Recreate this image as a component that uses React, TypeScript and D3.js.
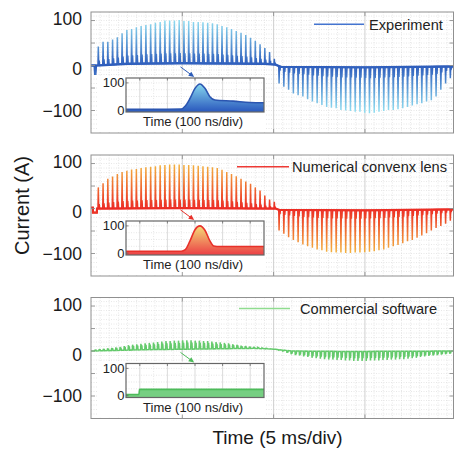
import React from 'react';
import * as d3 from 'd3';

const FONT = "'Liberation Sans', Arial, Helvetica, sans-serif";

// ---------------- data ----------------
const TIME_DOMAIN_MS = [0, 19.85];
const CURRENT_DOMAIN = [-150, 119];
const Y_TICKS = [100, 50, 0, -50, -100];
const Y_LABELED = [100, 0, -100];
const X_MAJOR = [5, 10, 15];
const LEGENDS = ['Experiment', 'Numerical convenx lens', 'Commercial software'];
const X_LABEL = 'Time (5 ms/div)';
const Y_LABEL = 'Current (A)';
const INSET_X_LABEL = 'Time (100 ns/div)';
const INSET_Y_TICKS = [100, 0];
const INSET_NS_DOMAIN = [0, 500];
const INSET_MAJOR_NS = [50, 150, 250, 350, 450];

// pulse peak currents (A), one per switching pulse
const EXP_PULSE_PEAKS = [
  42, 53, 53, 58, 63, 72, 79, 81, 85, 88, 90, 92, 95, 97, 100, 100, 100, 101, 99, 99,
  97, 97, 96, 95, 94, 92, 88, 85, 81, 77, 73, 68, 62, 55, 47, 39, 30, 15,
  -40, -47, -54, -62, -66, -69, -75, -80, -84, -88, -92, -94, -95, -99, -100, -101, -103, -103,
  -105, -106, -105, -103, -101, -99, -99, -97, -95, -92, -89, -86, -84, -80, -77, -69, -54, -40, -28,
];
const NUM_PULSE_PEAKS = [
  47, 56, 66, 71, 77, 81, 84, 87, 88, 90, 92, 93, 94, 96, 97, 98, 98, 98, 97, 97,
  96, 95, 94, 93, 92, 90, 86, 81, 77, 72, 66, 60, 55, 47, 40, 29, 20, 15,
  -49, -56, -64, -70, -75, -80, -84, -87, -91, -93, -96, -97, -98, -98, -99, -99, -98, -98,
  -97, -96, -95, -93, -91, -87, -84, -81, -77, -73, -70, -65, -60, -55, -49, -43, -39, -34, -27,
];
const COM_PULSE_PEAKS = [
  3, 4, 5, 6, 7, 8, 9, 11, 13, 14, 15, 16, 17, 18, 19, 20, 21, 22, 22, 23,
  23, 24, 24, 24, 23, 23, 22, 22, 21, 20, 19, 18, 17, 15, 14, 12, 11, 10, 9, 8,
  7, 6, 5, 4, 2, 0,
  -4, -7, -9, -10, -12, -13, -15, -16, -17, -18, -19, -19, -20, -20, -21, -21, -22, -22, -22, -22,
  -21, -21, -21, -20, -20, -19, -19, -18, -18, -17, -16, -15, -13, -12, -11, -10, -9, -8, -7, -6, -6,
];
const EXP_PULSE_START_MS = 0.4;
const NUM_PULSE_START_MS = 0.4;
const COM_PULSE_START_MS = 0.22;
const EXP_PULSE_PERIOD_MS = 0.2605;
const NUM_PULSE_PERIOD_MS = 0.2605;
const COM_PULSE_PERIOD_MS = 0.2285;

// baseline (between pulses) control points
const EXP_BASE_T = [0, 0.2, 0.23, 0.27, 2, 5, 9.5, 10.1, 10.4, 15, 19.85];
const EXP_BASE_V = [0, 0, -21, 0, 4, 5, 4, 2, -3, -4, -2];
const NUM_BASE_T = [0, 0.1, 0.11, 0.32, 0.33, 5, 10.1, 10.3, 15, 19.85];
const NUM_BASE_V = [2, 2, -9, -9, 0, 1, 0, -3, -4, -2];
const COM_BASE_T = [0, 3, 7, 9.0, 10, 11, 14, 19.85];
const COM_BASE_V = [0, 3, 5, 6, 4, 0, -1, 0];

// zoomed single pulse (insets)
const EXP_INSET_NS = [0, 100, 200, 215, 232, 250, 268, 286, 304, 322, 388, 449, 500];
const EXP_INSET_V = [3, 3, 4, 15, 43, 80, 96, 80, 49, 37, 33, 28, 27];
const NUM_INSET_NS = [0, 200, 215, 232, 250, 268, 286, 304, 318, 340, 500];
const NUM_INSET_V = [7, 7, 13, 45, 86, 100, 84, 45, 26, 24, 24];
const COM_INSET_NS = [0, 47, 49, 500];
const COM_INSET_V = [4, 4, 23, 23];

// ---------------- layout / style ----------------
const W = 454, H = 452;
const L = 91, R = 453.5, PH = 121;
const PANEL_TOPS = [12, 155, 297.5];
const INSET_L = 126, INSET_R = 264;
const LEGEND_POS = [
  { x1: 314, x2: 364, ly: 12.3, tx: 369, ty: 18.4 },
  { x1: 237, x2: 289, ly: 11.7, tx: 292, ty: 17 },
  { x1: 239, x2: 290, ly: 11, tx: 300, ty: 16.7 },
];
const LABEL_NUDGE: Record<number, number> = { 100: -1.5, 0: 3.5, [-100]: 0 };

const PANELS = [
  {
    peaks: EXP_PULSE_PEAKS, t0: EXP_PULSE_START_MS, period: EXP_PULSE_PERIOD_MS,
    baseT: EXP_BASE_T, baseV: EXP_BASE_V, tail: 0.22,
    insetNs: EXP_INSET_NS, insetV: EXP_INSET_V,
    dark: '#2c5bbb', light: '#8fdcf1', legend: '#4474cf', baseW: 2.4,
    fillTop: '#8adcf0', fillBot: '#2f5fc0', insetLine: '#2b55b0', arrow: '#2d5cb8',
  },
  {
    peaks: NUM_PULSE_PEAKS, t0: NUM_PULSE_START_MS, period: NUM_PULSE_PERIOD_MS,
    baseT: NUM_BASE_T, baseV: NUM_BASE_V, tail: 0.18,
    insetNs: NUM_INSET_NS, insetV: NUM_INSET_V,
    dark: '#ec2b24', light: '#f4b540', legend: '#ee3a35', baseW: 2.2,
    fillTop: '#f4dc78', fillBot: '#ec4848', insetLine: '#e8302a', arrow: '#e8302a',
  },
  {
    peaks: COM_PULSE_PEAKS, t0: COM_PULSE_START_MS, period: COM_PULSE_PERIOD_MS,
    baseT: COM_BASE_T, baseV: COM_BASE_V, tail: 0.65,
    insetNs: COM_INSET_NS, insetV: COM_INSET_V,
    dark: '#62c96a', light: '#7fd582', legend: '#8fdc8f', baseW: 0,
    fillTop: '#76cf82', fillBot: '#76cf82', insetLine: '#4dbb5a', arrow: '#4dbb5a',
  },
];

function buildTrace(peaks: number[], t0: number, period: number, baseT: number[], baseV: number[], tail: number, w: number) {
  const base = d3.scaleLinear().domain(baseT).range(baseV).clamp(true);
  const pts: [number, number][] = [];
  let bi = 0;
  peaks.forEach((a, i) => {
    const t = t0 + i * period;
    while (bi < baseT.length && baseT[bi] < t - w) { pts.push([baseT[bi], baseV[bi]]); bi++; }
    const b = base(t);
    const tl = b + tail * (a - b);
    pts.push([t - w, b], [t, a], [t + w, tl], [t + 3 * w, tl], [t + 4 * w, b]);
    while (bi < baseT.length && baseT[bi] <= t + 4 * w) bi++;
  });
  while (bi < baseT.length) { pts.push([baseT[bi], baseV[bi]]); bi++; }
  return pts;
}

function Panel({ idx }: { idx: number }) {
  const top = PANEL_TOPS[idx];
  const cfg = PANELS[idx];
  const x = d3.scaleLinear().domain(TIME_DOMAIN_MS).range([L, R]);
  const y = d3.scaleLinear().domain(CURRENT_DOMAIN).range([top + PH, top]);
  const line = d3.line<[number, number]>().x(d => x(d[0])).y(d => y(d[1]));
  const trace = buildTrace(cfg.peaks, cfg.t0, cfg.period, cfg.baseT, cfg.baseV, cfg.tail, 0.018);
  const basePts: [number, number][] = cfg.baseT.map((t, i) => [t, cfg.baseV[i]]);

  const minorX = d3.range(0.5, 19.85, 0.5).filter(v => Math.abs(v % 5) > 1e-6);
  const minorY = d3.range(-140, 119, 10);

  // inset
  const iTop = top + 66, iBot = top + 100;
  const xi = d3.scaleLinear().domain(INSET_NS_DOMAIN).range([INSET_L, INSET_R]);
  const yi = d3.scaleLinear().domain([-7, 118]).range([iBot, iTop]);
  const insetPts: [number, number][] = cfg.insetNs.map((n, i) => [n, cfg.insetV[i]]);
  const area = d3.area<[number, number]>().x(d => xi(d[0])).y0(iBot).y1(d => yi(d[1])).curve(d3.curveMonotoneX);
  const iline = d3.line<[number, number]>().x(d => xi(d[0])).y(d => yi(d[1])).curve(d3.curveMonotoneX);

  // arrow
  const ax1 = x(4.9), ay1 = y(-3), ax2 = x(5.65), ay2 = iTop - 1;
  const ang = Math.atan2(ay2 - ay1, ax2 - ax1);
  const hl = 5.5, hw = 2.6;
  const head = [
    [ax2, ay2],
    [ax2 - hl * Math.cos(ang) + hw * Math.sin(ang), ay2 - hl * Math.sin(ang) - hw * Math.cos(ang)],
    [ax2 - hl * Math.cos(ang) - hw * Math.sin(ang), ay2 - hl * Math.sin(ang) + hw * Math.cos(ang)],
  ].map(p => p.join(',')).join(' ');

  const lg = LEGEND_POS[idx];
  const gid = `tr${idx}`, fid = `fl${idx}`, cid = `cp${idx}`;

  return (
    <g>
      <defs>
        <linearGradient id={gid} gradientUnits="userSpaceOnUse" x1={0} x2={0} y1={y(100)} y2={y(-100)}>
          <stop offset="0" stopColor={cfg.light} />
          <stop offset="0.5" stopColor={cfg.dark} />
          <stop offset="1" stopColor={cfg.light} />
        </linearGradient>
        <linearGradient id={fid} gradientUnits="userSpaceOnUse" x1={0} x2={0} y1={yi(100)} y2={yi(0)}>
          <stop offset="0" stopColor={cfg.fillTop} />
          <stop offset="1" stopColor={cfg.fillBot} />
        </linearGradient>
        <clipPath id={cid}>
          <rect x={L} y={top} width={R - L} height={PH} />
        </clipPath>
      </defs>
      {/* grid */}
      {minorX.map(v => (
        <line key={'mx' + v} x1={x(v)} x2={x(v)} y1={top} y2={top + PH} stroke="#d6d6d6" strokeWidth={0.6} strokeDasharray="1 1.5" />
      ))}
      {minorY.map(v => (
        <line key={'my' + v} x1={L} x2={R} y1={y(v)} y2={y(v)} stroke="#d6d6d6" strokeWidth={0.6} strokeDasharray="1 1.5" />
      ))}
      {X_MAJOR.map(v => (
        <line key={'MX' + v} x1={x(v)} x2={x(v)} y1={top} y2={top + PH} stroke="#c4c4c4" strokeWidth={0.8} />
      ))}
      {/* trace */}
      <g clipPath={`url(#${cid})`}>
        {cfg.baseW > 0 && (
          <path d={line(basePts) || ''} fill="none" stroke={cfg.dark} strokeWidth={cfg.baseW} />
        )}
        <path d={line(trace) || ''} fill="none" stroke={`url(#${gid})`} strokeWidth={1.5} strokeLinejoin="miter" strokeMiterlimit={2} />
      </g>
      {/* inset */}
      <rect x={98} y={iTop - 2} width={INSET_R - 98 + 2} height={top + PH - 1 - (iTop - 2)} fill="#fff" />
      {d3.range(0, 500, 100).slice(1).map(v => (
        <line key={'imx' + v} x1={xi(v)} x2={xi(v)} y1={iTop} y2={iBot} stroke="#d6d6d6" strokeWidth={0.6} strokeDasharray="1 1.5" />
      ))}
      {[25, 50, 75, 100].map(v => (
        <line key={'imy' + v} x1={INSET_L} x2={INSET_R} y1={yi(v)} y2={yi(v)} stroke="#d6d6d6" strokeWidth={0.6} strokeDasharray="1 1.5" />
      ))}
      {INSET_MAJOR_NS.map(v => (
        <line key={'iMX' + v} x1={xi(v)} x2={xi(v)} y1={iTop} y2={iBot} stroke="#cccccc" strokeWidth={0.7} />
      ))}
      <path d={area(insetPts) || ''} fill={`url(#${fid})`} />
      <path d={iline(insetPts) || ''} fill="none" stroke={cfg.insetLine} strokeWidth={1.6} />
      <rect x={INSET_L} y={iTop} width={INSET_R - INSET_L} height={iBot - iTop} fill="none" stroke="#666" strokeWidth={1.2} />
      {INSET_MAJOR_NS.map(v => (
        <line key={'itk' + v} x1={xi(v)} x2={xi(v)} y1={iTop} y2={iTop + 2.5} stroke="#666" strokeWidth={0.8} />
      ))}
      {INSET_Y_TICKS.map(v => (
        <g key={'iyt' + v}>
          <line x1={INSET_L} x2={INSET_L + 2.5} y1={yi(v)} y2={yi(v)} stroke="#666" strokeWidth={0.8} />
          <text x={INSET_L - 1.5} y={yi(v) + 4.6} textAnchor="end" fontSize={13} fill="#222">{v}</text>
        </g>
      ))}
      <text x={193} y={top + 114} textAnchor="middle" fontSize={13} fill="#222">{INSET_X_LABEL}</text>
      {/* arrow */}
      <line x1={ax1} y1={ay1} x2={ax2 - 3 * Math.cos(ang)} y2={ay2 - 3 * Math.sin(ang)} stroke={cfg.arrow} strokeWidth={1} />
      <polygon points={head} fill={cfg.arrow} />
      {/* legend */}
      <line x1={lg.x1} x2={lg.x2} y1={top + lg.ly} y2={top + lg.ly} stroke={cfg.legend} strokeWidth={1.6} />
      <text x={lg.tx} y={top + lg.ty} fontSize={14.6} fill="#222">{LEGENDS[idx]}</text>
      {/* frame and ticks */}
      <rect x={L} y={top} width={R - L} height={PH} fill="none" stroke="#909090" strokeWidth={1} />
      {Y_TICKS.map(v => (
        <g key={'yt' + v}>
          <line x1={L} x2={L + 4} y1={y(v)} y2={y(v)} stroke="#909090" strokeWidth={0.9} />
          <line x1={R} x2={R - 4} y1={y(v)} y2={y(v)} stroke="#909090" strokeWidth={0.9} />
        </g>
      ))}
      {X_MAJOR.map(v => (
        <g key={'xt' + v}>
          <line x1={x(v)} x2={x(v)} y1={top + PH} y2={top + PH - 4} stroke="#909090" strokeWidth={0.9} />
          <line x1={x(v)} x2={x(v)} y1={top} y2={top + 4} stroke="#909090" strokeWidth={0.9} />
        </g>
      ))}
      {Y_LABELED.map(v => (
        <text key={'yl' + v} x={82} y={y(v) + 6.3 + (LABEL_NUDGE[v] || 0)} textAnchor="end" fontSize={17.5} fill="#1a1a1a">
          {v < 0 ? '\u2212' + Math.abs(v) : String(v)}
        </text>
      ))}
    </g>
  );
}

export default function App() {
  return (
    <svg width={W} height={H} viewBox={`0 0 ${W} ${H}`} style={{ position: 'absolute', left: 0, top: 0, background: '#fff' }} fontFamily={FONT}>
      <rect x={0} y={0} width={W} height={H} fill="#fff" />
      {PANELS.map((_, i) => <Panel key={i} idx={i} />)}
      <text transform="translate(29,205.5) rotate(-90)" textAnchor="middle" fontSize={20} fill="#1a1a1a">{Y_LABEL}</text>
      <text x={277.5} y={444} textAnchor="middle" fontSize={19} fill="#1a1a1a">{X_LABEL}</text>
    </svg>
  );
}
